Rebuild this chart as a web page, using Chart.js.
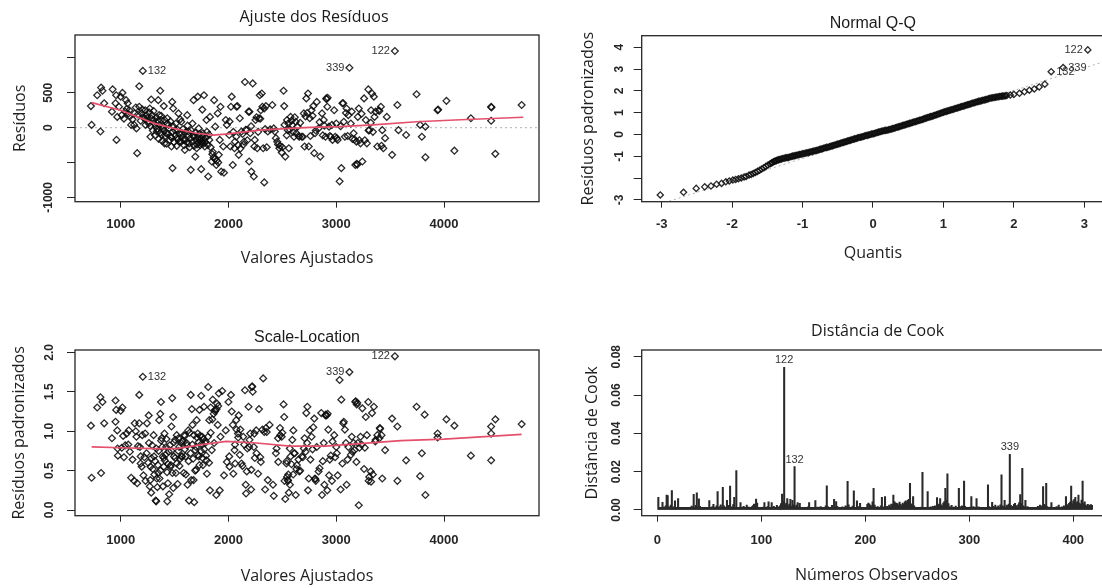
<!DOCTYPE html>
<html>
<head>
<meta charset="utf-8">
<script src="https://cdn.jsdelivr.net/npm/chart.js@4.4.1/dist/chart.umd.min.js"></script>
<style>
  html, body { margin: 0; padding: 0; background: #fff; }
  body { width: 1102px; height: 588px; overflow: hidden; position: relative; }
  canvas { position: absolute; }
</style>
</head>
<body>
<canvas id="fit" width="560" height="290" style="left:0;top:0"></canvas>
<canvas id="qq" width="580" height="290" style="left:560px;top:0"></canvas>
<canvas id="sl" width="560" height="293" style="left:0;top:295px"></canvas>
<canvas id="cook" width="580" height="293" style="left:560px;top:295px"></canvas>
<script>
// fitted value vs residual
const residPts = [
  [724,310],[730,40],[782,465],[818,575],[831,530],[812,-55],[847,350],[925,550],[958,465],[952,350],
  [919,230],[968,155],[961,-175],[1000,445],[1016,500],[984,300],[1050,395],[1042,230],[1081,250],[1065,350],
  [1097,40],[1130,205],[1146,-10],[1153,-365],[1172,595],[1172,300],[1195,205],[1211,148],[1227,250],[1244,135],
  [1260,60],[1270,275],[1283,405],[1292,180],[1309,110],[1276,-130],[1325,15],[1335,-55],[1348,395],[1367,530],
  [1357,180],[1374,110],[1390,-10],[1380,-105],[1406,-225],[1422,-80],[1400,310],[1432,135],[1445,40],[1465,-130],
  [1478,370],[1487,275],[1471,-270],[1481,-580],[1504,-35],[1520,-150],[1536,205],[1542,-200],[1562,85],[1569,-80],
  [1585,-175],[1595,-320],[1617,180],[1627,-55],[1634,-225],[1650,-605],[1666,60],[1676,395],[1682,-130],[1692,-415],
  [1705,-295],[1715,445],[1724,-10],[1731,-175],[1747,-225],[1747,-595],[1757,260],[1763,-80],[1773,465],[1780,-270],
  [1796,110],[1812,-700],[1822,-175],[1828,155],[1845,-485],[1854,-345],[1867,395],[1877,15],[1887,-535],[1900,205],
  [1910,-390],[1919,-175],[1926,300],[1932,-630],[1952,-270],[1958,-645],[1975,110],[1985,40],[2007,-105],[2017,-270],
  [2023,300],[2030,445],[2040,-535],[2056,-295],[2072,-130],[2082,310],[2095,-390],[2105,135],[2121,-55],[2137,-245],
  [2153,655],[2170,-35],[2186,230],[2192,-485],[2202,-80],[2212,-630],[2225,635],[2235,-700],[2244,-175],[2251,110],
  [2267,-295],[2283,135],[2290,465],[2300,250],[2309,490],[2322,-295],[2332,275],[2332,-785],[2348,310],[2365,-55],
  [2387,-25],[2407,325],[2430,-55],[2452,-200],[2472,-295],[2494,-355],[2511,530],[2517,310],[2527,-415],[2543,110],
  [2550,-35],[2560,-295],[2576,155],[2592,40],[2608,-130],[2624,85],[2641,15],[2657,-130],[2680,-130],[2699,205],
  [2706,-270],[2722,420],[2738,490],[2745,-270],[2754,135],[2771,250],[2787,310],[2796,-365],[2803,-80],[2819,370],
  [2836,-10],[2852,-415],[2868,205],[2884,110],[2900,-130],[2907,420],[2917,300],[2933,15],[2949,-130],[2965,-175],
  [2981,250],[3000,60],[3013,-175],[3031,-770],[3047,-580],[3057,350],[3070,85],[3080,-130],[3096,275],[3112,180],
  [3135,60],[3144,230],[3161,-80],[3177,-535],[3187,-200],[3200,155],[3209,275],[3225,-225],[3242,-485],[3258,420],
  [3274,110],[3284,-225],[3297,550],[3306,-35],[3323,250],[3332,490],[3349,445],[3355,155],[3381,-270],[3394,250],
  [3414,300],[3427,-35],[3437,-295],[3453,-150],[3469,155],[3518,-390],[3567,325],[3577,-35],[3648,-105],[3745,480],
  [3778,40],[3794,-130],[3827,15],[3827,-425],[3940,250],[3945,260],[4022,385],[4096,-330],[4249,135],[4437,300],
  [4440,290],[4437,100],[4476,-375],[4720,325],
  [1010,180],[1030,130],[1055,270],[1070,200],[1085,160],[1110,120],[1125,40],[1140,290],[1160,190],[1185,100],
  [1200,260],[1220,130],[1230,40],[1240,180],[1255,90],[1262,220],[1275,20],[1285,130],[1298,-40],[1305,240],
  [1312,60],[1320,-110],[1330,150],[1340,-20],[1345,95],[1352,-160],[1360,40],[1368,-70],[1375,170],[1385,-190],
  [1392,25],[1400,-40],[1408,110],[1415,-120],[1425,-230],[1430,60],[1440,-90],[1450,-10],[1455,-180],[1462,90],
  [1470,-140],[1480,-60],[1488,20],[1495,-210],[1505,-110],[1512,60],[1520,-260],[1528,-30],[1535,-160],[1545,-90],
  [1552,120],[1560,-200],[1570,-130],[1578,-20],[1588,-250],[1595,-170],[1605,-60],[1612,-210],[1620,30],[1630,-110],
  [1640,-280],[1648,-150],[1655,-40],[1665,-200],[1672,-120],[1680,-260],[1690,-70],[1700,-180],[1708,-240],[1715,-140],
  [1722,-210],[1730,-90],[1738,-250],[1745,-160],[1752,-200],[1760,-120],[1768,-230],[1775,-170],[1785,-210],[1792,-140],
  [1800,-60],[1810,-250],[1820,-100],[1835,-280],[1850,-380],[1862,-430],[1875,-450],[1890,-470],[1905,-500],
  [2010,90],[2045,-60],[2060,-200],[2075,300],[2090,-250],[2110,-300],[2130,-90],[2145,-200],[2160,-30],[2175,-180],
  [2195,230],[2210,20],[2240,-270],[2260,150],[2275,-60],[2295,130],[2315,300],[2340,-20],[2355,-280],
  [2420,-10],[2440,-150],[2460,-240],[2480,-260],[2500,-280],[2520,40],[2540,-110],[2555,60],[2570,-30],[2585,100],
  [2600,-60],[2615,150],[2630,-80],[2650,-120],[2665,70],[2690,-130],[2715,160],[2730,210],[2760,-120],[2780,170],
  [2810,-40],[2845,80],[2875,-110],[2890,30],[2910,410],[2920,430],[2940,-120],[2960,40],[2990,-130],[3005,-150],
  [3040,20],[3065,350],[3090,210],[3105,-120],[3150,-160],[3170,-170],[3190,-520],[3195,-530],[3215,-180],[3235,200],
  [3265,-180],[3300,-40],[3320,70],[3340,-60],[3365,230],[3400,240],[3420,-260]
];
const residSmooth = [
  [730,359],[1000,250],[1309,62],[1520,-20],[1700,-80],[1860,-108],[2000,-90],[2290,-35],
  [2570,-9],[2760,5],[3030,14],[3340,39],[3745,85],[4100,110],[4735,150]
];

// fitted value vs sqrt(|standardized residual|)
const rootPts = [
  [724,1.07],[730,0.41],[782,1.30],[812,1.43],[831,1.37],[818,0.47],[847,1.10],[919,0.91],[952,1.39],[958,1.27],
  [952,1.12],[968,1.01],[971,0.78],[974,0.69],[1000,1.26],[1016,1.30],[1023,0.94],[1042,0.82],[1075,1.01],[1097,0.41],
  [1130,1.10],[1146,0.93],[1153,0.34],[1172,1.46],[1172,1.10],[1179,0.80],[1185,0.68],[1195,0.55],[1211,0.44],[1227,0.97],
  [1244,1.10],[1260,1.20],[1270,0.30],[1276,0.55],[1283,0.22],[1292,0.82],[1309,0.68],[1325,0.12],[1329,0.11],[1335,0.40],
  [1348,0.47],[1357,1.14],[1367,1.22],[1374,1.37],[1380,0.91],[1390,0.68],[1400,0.55],[1406,0.97],[1422,0.80],[1432,0.11],
  [1438,0.34],[1445,0.74],[1465,0.57],[1471,1.06],[1478,1.42],[1487,1.18],[1494,0.68],[1504,0.89],[1520,0.59],[1536,0.91],
  [1542,0.80],[1562,0.68],[1569,0.87],[1585,0.47],[1595,0.94],[1601,0.68],[1617,0.82],[1627,1.01],[1634,0.12],[1650,1.46],
  [1660,1.28],[1666,1.08],[1676,0.38],[1682,0.10],[1692,0.76],[1699,0.51],[1705,1.14],[1715,0.97],[1724,0.68],[1731,1.27],
  [1747,1.45],[1757,0.93],[1763,0.57],[1773,1.31],[1789,0.87],[1796,0.63],[1812,1.56],[1822,1.14],[1828,0.25],[1835,1.30],
  [1845,0.76],[1854,1.40],[1867,0.85],[1877,1.27],[1887,0.19],[1893,1.35],[1900,1.08],[1910,1.48],[1919,0.25],[1926,0.93],
  [1942,1.51],[1958,0.44],[1975,1.01],[1985,0.61],[2000,1.37],[2007,0.68],[2023,1.46],[2030,1.25],[2040,1.08],[2056,0.76],
  [2062,0.59],[2072,1.14],[2088,0.97],[2095,1.20],[2105,0.70],[2121,0.59],[2137,0.93],[2153,1.52],[2163,0.21],[2170,0.49],
  [2186,1.31],[2192,0.80],[2202,0.97],[2212,0.51],[2218,1.56],[2220,1.57],[2225,1.50],[2235,0.80],[2244,0.66],[2257,1.01],
  [2283,1.28],[2300,0.61],[2322,1.67],[2332,0.99],[2348,1.04],[2365,0.38],[2381,1.08],[2413,0.32],[2446,0.78],[2462,0.61],
  [2478,1.04],[2494,0.93],[2511,1.34],[2517,1.18],[2527,0.14],[2537,0.59],[2543,0.42],[2550,0.38],[2553,0.37],[2560,0.22],
  [2569,0.78],[2576,0.68],[2592,0.89],[2602,1.01],[2608,0.72],[2624,0.19],[2634,0.57],[2657,0.49],[2680,0.68],[2699,0.78],
  [2706,0.91],[2722,1.23],[2732,1.31],[2738,0.25],[2745,0.40],[2754,1.01],[2771,0.93],[2787,1.05],[2796,1.16],[2803,0.40],
  [2806,0.39],[2819,0.80],[2836,0.49],[2861,1.23],[2868,0.19],[2884,0.85],[2900,1.20],[2903,1.21],[2917,0.25],[2926,1.02],
  [2933,0.44],[2949,0.69],[2965,0.87],[2981,0.95],[3000,0.80],[3013,0.44],[3031,1.65],[3047,1.40],[3057,0.59],[3070,1.12],
  [3080,1.02],[3096,0.32],[3112,0.80],[3135,0.70],[3144,0.93],[3161,0.85],[3177,1.37],[3180,1.38],[3187,0.61],[3200,0.85],
  [3209,0.06],[3225,0.93],[3242,1.29],[3258,0.52],[3274,1.18],[3284,0.95],[3297,1.37],[3306,0.42],[3323,0.36],[3332,1.23],
  [3349,1.31],[3362,0.87],[3381,0.95],[3404,1.04],[3407,1.03],[3427,0.40],[3453,0.76],[3518,1.16],[3567,1.06],[3567,0.37],
  [3648,0.63],[3745,1.31],[3778,0.43],[3794,0.72],[3820,1.21],[3827,0.19],[3940,0.97],[3940,0.92],[4022,1.15],[4096,1.07],
  [4249,0.69],[4437,1.06],[4437,0.97],[4437,0.63],[4476,1.15],[4720,1.09],
  [1010,0.79],[1030,0.67],[1055,0.97],[1070,0.83],[1085,0.74],[1110,0.64],[1125,0.37],[1140,1.00],[1160,0.81],[1185,0.59],
  [1200,0.95],[1220,0.67],[1230,0.37],[1240,0.72],[1255,0.60],[1262,0.85],[1275,0.38],[1285,0.66],[1298,0.52],[1305,0.95],
  [1312,0.45],[1320,0.62],[1330,0.78],[1340,0.29],[1345,0.57],[1352,0.75],[1360,0.40],[1368,0.50],[1375,0.88],[1385,0.80],
  [1392,0.30],[1400,0.66],[1408,0.63],[1415,0.70],[1425,0.90],[1430,0.48],[1440,0.58],[1450,0.20],[1455,0.82],[1462,0.55],
  [1470,0.75],[1480,0.47],[1488,0.28],[1495,0.86],[1505,0.66],[1512,0.47],[1520,0.95],[1528,0.33],[1535,0.75],[1545,0.56],
  [1552,0.65],[1560,0.85],[1570,0.68],[1578,0.88],[1588,0.95],[1595,0.77],[1605,0.45],[1612,0.85],[1620,0.32],[1630,0.62],
  [1640,0.98],[1648,0.72],[1655,0.38],[1665,0.83],[1672,0.65],[1680,0.95],[1690,0.50],[1700,0.80],[1708,0.92],[1715,0.70],
  [1722,0.86],[1730,0.57],[1738,0.94],[1745,0.75],[1752,0.84],[1760,0.66],[1768,0.90],[1775,0.77],[1785,0.85],[1792,0.69],
  [1800,0.46],[1810,0.93],[1820,0.60],[1835,0.98],[1850,1.15],[1862,1.22],[1875,1.25],[1890,1.28],[1905,1.32],
  [2010,0.55],[2045,0.46],[2060,0.83],[2075,1.02],[2090,0.92],[2110,1.02],[2130,0.56],[2145,0.83],[2160,0.32],[2175,0.78],
  [2195,0.89],[2210,0.26],[2240,0.97],[2260,0.72],[2275,0.46],[2295,0.67],[2315,1.02],[2340,0.26],[2355,0.99],
  [2420,0.18],[2440,0.72],[2460,0.91],[2480,0.95],[2500,0.98],[2520,0.37],[2540,0.62],[2555,0.45],[2570,0.32],[2585,0.58],
  [2600,0.45],[2615,0.72],[2630,0.52],[2650,0.64],[2665,0.50],[2690,0.67],[2715,0.74],[2730,0.85],[2760,0.64],[2780,0.77],
  [2810,0.37],[2845,0.53],[2875,0.62],[2890,0.32],[2910,1.20],[2920,1.22],[2940,0.64],[2960,0.37],[2990,0.67],[3005,0.72],
  [3040,0.26],[3065,1.10],[3090,0.85],[3105,0.64],[3150,0.74],[3170,0.76],[3190,1.34],[3195,1.36],[3215,0.79],[3235,0.83],
  [3265,0.79],[3300,0.37],[3320,0.49],[3340,0.45],[3365,0.89],[3400,0.91],[3420,0.95]
];
const rootSmooth = [
  [730,0.80],[1000,0.79],[1300,0.78],[1520,0.78],[1750,0.83],[1980,0.87],[2260,0.85],
  [2570,0.81],[2900,0.81],[3190,0.84],[3600,0.88],[4000,0.90],[4720,0.96]
];

// theoretical quantile vs standardized residual
const qqPts = [
  [-3.02,-2.77],[-2.69,-2.65],[-2.51,-2.47],[-2.39,-2.40],[-2.30,-2.36],[-2.22,-2.28],[-2.15,-2.24],[-2.09,-2.17],
  [-2.04,-2.13],[-1.99,-2.09],[-1.95,-2.06],[-1.91,-2.03],[-1.87,-1.99],[-1.83,-1.95],[-1.80,-1.92],[-1.76,-1.86],
  [-1.73,-1.83],[-1.70,-1.79],[-1.67,-1.74],[-1.64,-1.69],[-1.61,-1.64],[-1.58,-1.58],[-1.55,-1.52],[-1.52,-1.46],
  [-1.49,-1.40],[-1.46,-1.34],[-1.43,-1.28],[-1.40,-1.23],[-1.37,-1.19],[-1.34,-1.16],[-1.30,-1.12],[-1.26,-1.09],
  [-1.22,-1.06],[-1.18,-1.03],[-1.14,-0.99],[-1.10,-0.96],[-1.06,-0.93],[-1.02,-0.90],[-0.98,-0.87],[-0.94,-0.84],
  [-0.90,-0.81],[-0.86,-0.78],[-0.82,-0.74],[-0.78,-0.71],[-0.74,-0.67],[-0.70,-0.63],[-0.66,-0.59],[-0.62,-0.56],
  [-0.58,-0.52],[-0.54,-0.48],[-0.50,-0.44],[-0.46,-0.40],[-0.42,-0.36],[-0.38,-0.32],[-0.34,-0.28],[-0.30,-0.24],
  [-0.26,-0.20],[-0.22,-0.16],[-0.18,-0.13],[-0.14,-0.09],[-0.10,-0.05],[-0.06,-0.02],[-0.02,0.02],[0.02,0.05],
  [0.06,0.09],[0.10,0.13],[0.14,0.16],[0.18,0.19],[0.22,0.22],[0.26,0.25],[0.30,0.29],[0.34,0.33],
  [0.38,0.37],[0.42,0.41],[0.46,0.45],[0.50,0.49],[0.54,0.53],[0.58,0.57],[0.62,0.61],[0.66,0.65],
  [0.70,0.69],[0.74,0.74],[0.78,0.78],[0.82,0.82],[0.86,0.86],[0.90,0.91],[0.94,0.95],[0.98,1.00],
  [1.02,1.04],[1.06,1.08],[1.10,1.12],[1.14,1.16],[1.18,1.20],[1.22,1.24],[1.26,1.28],[1.30,1.32],
  [1.34,1.36],[1.38,1.40],[1.42,1.44],[1.46,1.48],[1.50,1.52],[1.54,1.55],[1.58,1.58],[1.62,1.62],
  [1.66,1.66],[1.70,1.69],[1.74,1.71],[1.78,1.73],[1.82,1.75],[1.86,1.77],[1.90,1.79],[1.95,1.81],
  [2.00,1.84],[2.08,1.89],[2.15,1.96],[2.22,2.03],[2.29,2.09],[2.36,2.18],[2.44,2.31],
  [-1.44,-1.31],[-1.41,-1.25],[-1.38,-1.21],[-1.35,-1.17],[-1.32,-1.14],[-1.28,-1.10],[-1.24,-1.07],[-1.20,-1.05],
  [-1.16,-1.01],[-1.12,-0.98],[-1.08,-0.95],[-1.04,-0.92],[-1.00,-0.88],[-0.96,-0.86],[-0.92,-0.83],[-0.88,-0.79],
  [-0.84,-0.76],[-0.80,-0.73],[-0.76,-0.69],[-0.72,-0.65],[-0.68,-0.61],[-0.64,-0.58],[-0.60,-0.54],[-0.56,-0.50],
  [-0.52,-0.46],[-0.48,-0.42],[-0.44,-0.38],[-0.40,-0.34],[-0.36,-0.30],[-0.32,-0.26],[-0.28,-0.22],[-0.24,-0.18],
  [-0.20,-0.14],[-0.16,-0.11],[-0.12,-0.07],[-0.08,-0.04],[-0.04,0.00],[0.00,0.03],[0.04,0.07],[0.08,0.11],
  [0.12,0.15],[0.16,0.18],[0.20,0.20],[0.24,0.23],[0.28,0.27],[0.32,0.31],[0.36,0.35],[0.40,0.39],
  [0.44,0.43],[0.48,0.47],[0.52,0.51],[0.56,0.55],[0.60,0.59],[0.64,0.63],[0.68,0.67],[0.72,0.71],
  [0.76,0.76],[0.80,0.80],[0.84,0.84],[0.88,0.88],[0.92,0.93],[0.96,0.97],[1.00,1.02],[1.04,1.06],
  [1.08,1.10],[1.12,1.14],[1.16,1.18],[1.20,1.22],[1.24,1.26],[1.28,1.30],[1.32,1.34],[1.36,1.38],
  [1.40,1.42],[1.44,1.46],[1.48,1.50],[1.52,1.53],[1.56,1.57],[1.60,1.60],[1.64,1.64],[1.68,1.67],
  [1.72,1.70],[1.76,1.72],[1.80,1.74],[1.84,1.76],[1.88,1.78]
];
const qqLine = [[-3.3,-3.48],[3.3,3.36]];

// Cook's distance, observations 1..418
const cookVals = [
  .0066,.0012,.0004,.0009,.0040,.0015,.0006,.0021,.0078,.0075,
  .0018,.0007,.0025,.0101,.0011,.0016,.0047,.0009,.0013,.0060,
  .0008,.0005,.0011,.0004,.0007,.0010,.0006,.0012,.0005,.0009,
  .0007,.0013,.0020,.0016,.0082,.0011,.0024,.0090,.0015,.0058,
  .0019,.0012,.0009,.0014,.0007,.0010,.0006,.0013,.0008,.0049,
  .0011,.0006,.0017,.0030,.0009,.0014,.0022,.0096,.0010,.0018,
  .0027,.0008,.0118,.0021,.0015,.0012,.0050,.0019,.0024,.0125,
  .0016,.0009,.0028,.0066,.0013,.0205,.0007,.0011,.0006,.0038,
  .0014,.0008,.0019,.0005,.0012,.0026,.0009,.0015,.0007,.0011,
  .0018,.0023,.0031,.0029,.0057,.0036,.0014,.0010,.0007,.0012,
  .0009,.0015,.0038,.0011,.0006,.0017,.0043,.0013,.0008,.0038,
  .0012,.0019,.0007,.0010,.0024,.0016,.0009,.0021,.0033,.0083,
  .0045,.0745,.0028,.0036,.0060,.0022,.0031,.0056,.0019,.0050,
  .0027,.0226,.0018,.0025,.0038,.0014,.0035,.0009,.0006,.0008,
  .0011,.0007,.0013,.0005,.0016,.0039,.0010,.0008,.0014,.0006,
  .0012,.0049,.0009,.0015,.0007,.0011,.0018,.0006,.0010,.0013,
  .0008,.0021,.0126,.0017,.0009,.0012,.0007,.0024,.0015,.0056,
  .0011,.0044,.0019,.0008,.0013,.0006,.0010,.0016,.0009,.0014,
  .0022,.0018,.0149,.0027,.0012,.0008,.0015,.0020,.0100,.0013,
  .0009,.0047,.0017,.0011,.0035,.0007,.0012,.0006,.0010,.0008,
  .0014,.0029,.0036,.0031,.0024,.0019,.0042,.0113,.0026,.0015,
  .0011,.0017,.0008,.0013,.0021,.0066,.0009,.0016,.0070,.0012,
  .0019,.0014,.0025,.0018,.0031,.0028,.0078,.0044,.0037,.0035,
  .0033,.0026,.0041,.0030,.0022,.0036,.0029,.0043,.0047,.0039,
  .0051,.0055,.0139,.0032,.0027,.0070,.0021,.0012,.0009,.0014,
  .0008,.0011,.0007,.0015,.0196,.0010,.0006,.0009,.0013,.0096,
  .0012,.0008,.0016,.0011,.0019,.0014,.0022,.0017,.0064,.0025,
  .0031,.0060,.0027,.0020,.0036,.0044,.0113,.0052,.0188,.0033,
  .0018,.0012,.0024,.0009,.0015,.0011,.0020,.0007,.0013,.0113,
  .0017,.0010,.0022,.0014,.0151,.0019,.0008,.0012,.0006,.0011,
  .0015,.0070,.0009,.0018,.0013,.0008,.0059,.0012,.0016,.0010,
  .0007,.0011,.0006,.0009,.0014,.0008,.0012,.0131,.0017,.0010,
  .0013,.0040,.0019,.0008,.0025,.0011,.0016,.0021,.0014,.0027,
  .0183,.0022,.0018,.0050,.0012,.0026,.0020,.0031,.0290,.0024,
  .0016,.0019,.0029,.0035,.0023,.0014,.0027,.0038,.0080,.0033,
  .0217,.0021,.0015,.0050,.0011,.0018,.0008,.0013,.0006,.0010,
  .0009,.0014,.0007,.0012,.0008,.0019,.0011,.0025,.0016,.0021,
  .0122,.0030,.0024,.0139,.0017,.0012,.0009,.0015,.0038,.0010,
  .0007,.0013,.0011,.0018,.0008,.0026,.0014,.0010,.0016,.0012,
  .0021,.0017,.0070,.0028,.0019,.0034,.0041,.0125,.0032,.0048,
  .0055,.0066,.0038,.0044,.0078,.0036,.0029,.0051,.0151,.0033,
  .0043,.0026,.0019,.0030,.0022,.0026,.0028,.0024
];

// the three flagged observations
const idNames = ['122', '132', '339'];
const idFitted = [3544, 1205, 3122];
const idResid = [1100, 815, 860];
const idRoot = [1.95, 1.69, 1.75];
const idQuant = [3.05, 2.53, 2.70];
const idStd = [3.88, 2.88, 3.07];

// axis ticks
const fitTicks = [1000, 2000, 3000, 4000];
const residTicks = [-1000, -500, 0, 500, 1000];
const residTickLabels = ['-1000', '', '0', '500', ''];
const quantTicks = [-3, -2, -1, 0, 1, 2, 3];
const stdTicks = [-3, -2, -1, 0, 1, 2, 3, 4];
const stdTickLabels = ['-3', '', '-1', '0', '1', '2', '3', '4'];
const rootTicks = [0, 0.5, 1, 1.5, 2];
const rootTickLabels = ['0.0', '0.5', '1.0', '1.5', '2.0'];
const obsTicks = [0, 100, 200, 300, 400];
const cookTicks = [0, 0.02, 0.04, 0.06, 0.08];
const cookTickLabels = ['0.00', '0.02', '0.04', '0.06', '0.08'];

const INK = '#262626';
const SMOOTH = '#e4506c';
const tickFont = { family: 'Liberation Sans', size: 13, weight: 'bold' };
const axisFont = { family: 'Open Sans', size: 16 };

const xy = pts => pts.map(p => ({ x: p[0], y: p[1] }));
const zip = (a, b) => a.map((v, i) => [v, b[i]]);

const marks = {
  pointStyle: 'rectRot', pointRadius: 3.4, pointBorderWidth: 1.3,
  pointBorderColor: 'rgba(12,12,12,0.88)', pointBackgroundColor: 'rgba(0,0,0,0)'
};

function xAxis(o) {
  return {
    type: 'linear', min: o.min, max: o.max, offset: false,
    afterBuildTicks: s => { s.ticks = o.ticks.map(v => ({ value: v })); },
    afterFit: s => { s.height = o.height; },
    ticks: { color: INK, font: tickFont, padding: o.tickPad || 9, maxRotation: 0, autoSkip: false,
             callback: (v, i) => String(o.ticks[i]) },
    grid: { drawOnChartArea: false, offset: false, tickLength: 6, color: INK },
    border: { display: false },
    title: { display: true, text: o.title, color: '#1e1e1e', font: axisFont, padding: { top: 0, bottom: o.pad } }
  };
}

function yAxis(o) {
  return {
    type: 'linear', min: o.min, max: o.max,
    afterBuildTicks: s => { s.ticks = o.ticks.map(v => ({ value: v })); },
    afterFit: s => { s.width = o.width; },
    ticks: { display: false },
    grid: { drawOnChartArea: false, tickLength: 8, color: INK },
    border: { display: false },
    title: { display: true, text: o.title, color: '#1e1e1e', font: axisFont, padding: { top: o.pad, bottom: 0 } }
  };
}

function options(o) {
  return {
    responsive: false, animation: false, events: [],
    layout: { padding: o.padding },
    plugins: { legend: { display: false }, tooltip: { enabled: false } },
    scales: { x: o.x, y: o.y }
  };
}

// R-style frame: box, rotated y labels, title, reference line and point ids
function rFrame(cfg) {
  return {
    id: 'rFrame',
    beforeDatasetsDraw(chart) {
      const { ctx, chartArea: a, scales: { x, y } } = chart;
      if (cfg.hline === undefined && !cfg.guide) return;
      ctx.save();
      ctx.beginPath(); ctx.rect(a.left, a.top, a.width, a.height); ctx.clip();
      ctx.strokeStyle = '#b0b0b0'; ctx.lineWidth = 1; ctx.setLineDash([2, 3]);
      ctx.beginPath();
      if (cfg.guide) {
        ctx.moveTo(x.getPixelForValue(cfg.guide[0][0]), y.getPixelForValue(cfg.guide[0][1]));
        ctx.lineTo(x.getPixelForValue(cfg.guide[1][0]), y.getPixelForValue(cfg.guide[1][1]));
      } else {
        const py = y.getPixelForValue(cfg.hline);
        ctx.moveTo(a.left, py); ctx.lineTo(a.right, py);
      }
      ctx.stroke();
      ctx.restore();
    },
    afterDraw(chart) {
      const { ctx, chartArea: a, scales: { x, y } } = chart;
      ctx.save();
      ctx.strokeStyle = INK; ctx.lineWidth = 1.3;
      ctx.strokeRect(a.left, a.top, a.width, a.height);

      ctx.fillStyle = INK;
      ctx.font = 'bold 12px "Liberation Sans"';
      ctx.textAlign = 'center'; ctx.textBaseline = 'middle';
      y.ticks.forEach((t, i) => {
        const lab = cfg.yLabels[i];
        if (!lab) return;
        ctx.save();
        ctx.translate(a.left - cfg.yGap, y.getPixelForValue(t.value));
        ctx.rotate(-Math.PI / 2);
        ctx.fillText(lab, 0, 0);
        ctx.restore();
      });

      ctx.fillStyle = '#1a1a1a';
      ctx.font = cfg.titleFont;
      ctx.fillText(cfg.title, (a.left + a.right) / 2 + (cfg.titleDx || 0), a.top - cfg.titleDy);

      const { names, xs, ys, above } = cfg.ids;
      ctx.fillStyle = '#333';
      ctx.font = '11px "Liberation Sans"';
      const mid = (Math.min(...xs) + Math.max(...xs)) / 2;
      names.forEach((n, i) => {
        const px = x.getPixelForValue(xs[i]), py = y.getPixelForValue(ys[i]);
        if (above) { ctx.textAlign = 'center'; ctx.fillText(n, px, py - 7); }
        else if (xs[i] > mid) { ctx.textAlign = 'right'; ctx.fillText(n, px - 5, py); }
        else { ctx.textAlign = 'left'; ctx.fillText(n, px + 5, py); }
      });
      ctx.restore();
    }
  };
}

new Chart(document.getElementById('fit'), {
  type: 'scatter',
  data: { datasets: [
    { type: 'line', data: xy(residSmooth), borderColor: SMOOTH, borderWidth: 1.7, pointRadius: 0 },
    Object.assign({ data: xy(residPts.concat(zip(idFitted, idResid))) }, marks)
  ] },
  options: options({
    padding: { top: 35, right: 21, left: 0, bottom: 0 },
    x: xAxis({ min: 576, max: 4881, ticks: fitTicks, title: 'Valores Ajustados', pad: 22.1, height: 88.3 }),
    y: yAxis({ min: -1062, max: 1330, ticks: residTicks, title: 'Resíduos', pad: 10.4, width: 75 })
  }),
  plugins: [rFrame({
    title: 'Ajuste dos Resíduos', titleFont: '16px "Open Sans"', titleDx: 7, titleDy: 17.7,
    yLabels: residTickLabels, yGap: 26, hline: 0,
    ids: { names: idNames, xs: idFitted, ys: idResid }
  })]
});

new Chart(document.getElementById('qq'), {
  type: 'scatter',
  data: { datasets: [
    Object.assign({ data: xy(qqPts.concat(zip(idQuant, idStd))) }, marks, { pointRadius: 3.1 })
  ] },
  options: options({
    padding: { top: 35.7, right: 36, left: 0, bottom: 0 },
    x: xAxis({ min: -3.284, max: 3.28, ticks: quantTicks, title: 'Quantis', pad: 27.1, height: 88.3 }),
    y: yAxis({ min: -3.08, max: 4.53, ticks: stdTicks, title: 'Resíduos padronizados', pad: 18.4, width: 81.7 })
  }),
  plugins: [rFrame({
    title: 'Normal Q-Q', titleFont: '16px "Liberation Sans"', titleDy: 12.4,
    yLabels: stdTickLabels, yGap: 22, guide: qqLine,
    ids: { names: idNames, xs: idQuant, ys: idStd }
  })]
});

new Chart(document.getElementById('sl'), {
  type: 'scatter',
  data: { datasets: [
    { type: 'line', data: xy(rootSmooth), borderColor: SMOOTH, borderWidth: 1.7, pointRadius: 0 },
    Object.assign({ data: xy(rootPts.concat(zip(idFitted, idRoot))) }, marks)
  ] },
  options: options({
    padding: { top: 55, right: 21, left: 0, bottom: 0 },
    x: xAxis({ min: 576, max: 4881, ticks: fitTicks, title: 'Valores Ajustados', pad: 1.7, height: 72.3, tickPad: 11 }),
    y: yAxis({ min: -0.072, max: 2.03, ticks: rootTicks, title: 'Resíduos padronizados', pad: 9.7, width: 75 })
  }),
  plugins: [rFrame({
    title: 'Scale-Location', titleFont: '16px "Liberation Sans"', titleDy: 12.7,
    yLabels: rootTickLabels, yGap: 25,
    ids: { names: idNames, xs: idFitted, ys: idRoot }
  })]
});

new Chart(document.getElementById('cook'), {
  type: 'bar',
  data: { datasets: [{
    data: cookVals.map((v, i) => ({ x: i + 1, y: v })),
    backgroundColor: '#2a2a2a', borderWidth: 0, barThickness: 1.4, minBarLength: 2.5
  }] },
  options: options({
    padding: { top: 55, right: 29, left: 0, bottom: 0 },
    x: xAxis({ min: -15, max: 436.3, ticks: obsTicks, title: 'Números Observados', pad: 3.4, height: 72.3, tickPad: 11 }),
    y: yAxis({ min: -0.003, max: 0.0835, ticks: cookTicks, title: 'Distância de Cook', pad: 22.4, width: 81.7 })
  }),
  plugins: [rFrame({
    title: 'Distância de Cook', titleFont: '16px "Open Sans"', titleDx: 1.3, titleDy: 18.3,
    yLabels: cookTickLabels, yGap: 25,
    ids: { names: idNames, xs: idNames.map(Number), ys: idNames.map(n => cookVals[Number(n) - 1]), above: true }
  })]
});
</script>
</body>
</html>
